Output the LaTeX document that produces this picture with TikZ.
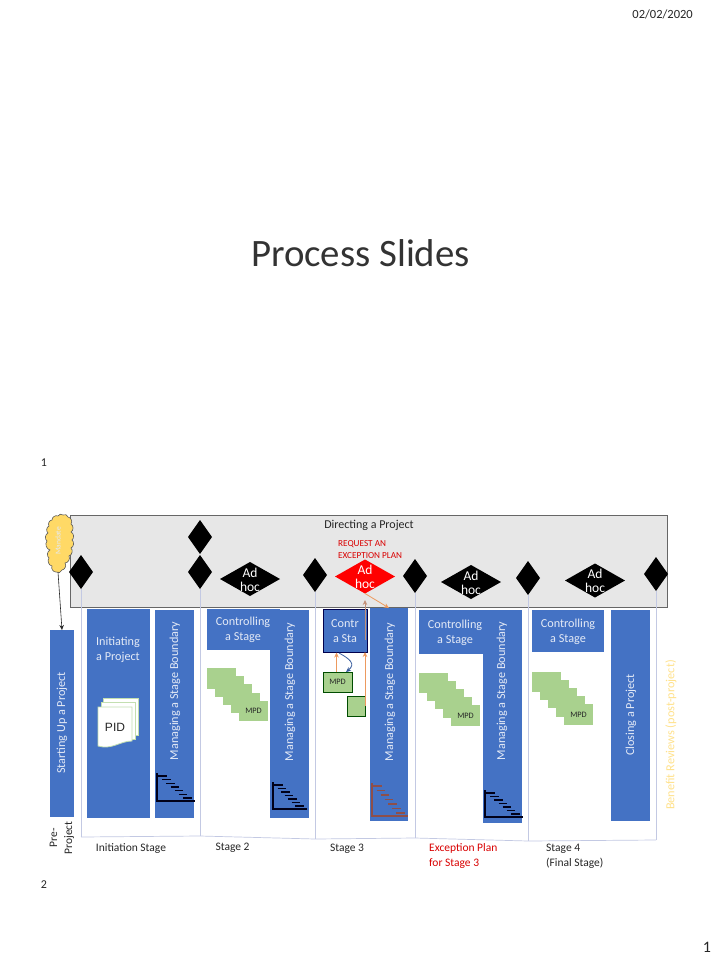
\documentclass[tikz,border=0pt]{standalone}
\usepackage{fontspec}
\setmainfont{Carlito}
\newfontfamily\pidfont{Liberation Sans}
\usetikzlibrary{shapes.geometric,arrows.meta}
\definecolor{pblue}{HTML}{4472C4}
\definecolor{pgrey}{HTML}{E7E7E7}
\definecolor{pgreen}{HTML}{A9D18E}
\definecolor{pline}{HTML}{C3C9E3}
\definecolor{porange}{HTML}{ED9A5E}
\definecolor{pbrown}{HTML}{8E4F4A}
\definecolor{pcloud}{HTML}{FFD966}
\definecolor{ptext}{HTML}{E4EAF6}
\tikzset{
  pxbox/.style={rectangle,inner sep=0pt,outer sep=0pt},
  bluebox/.style={pxbox,fill=pblue},
  greybox/.style={pxbox,fill=pgrey,draw=black!60,line width=.7pt},
  stepbox/.style={pxbox,fill=pgreen,minimum width=29pt,minimum height=20.5pt},
  gem/.style={diamond,fill=black,inner sep=0pt,outer sep=0pt,minimum width=24pt,minimum height=34pt},
  widegem/.style={gem,minimum width=60pt},
  btxt/.style={text=ptext,font=\fontsize{12.2}{15}\selectfont,align=center,inner sep=0pt},
  rtxt/.style={btxt,rotate=90},
  gemtxt/.style={text=white,font=\fontsize{13.5}{14}\selectfont,align=center,inner sep=0pt},
  ktxt/.style={text=black!85,font=\fontsize{11.5}{15}\selectfont,align=left,inner sep=0pt},
  redtxt/.style={ktxt,text=red!85!black},
  mpdtxt/.style={text=black!85,font=\fontsize{8.3}{9}\selectfont,inner sep=0pt},
  vline/.style={draw=pline,line width=.7pt},
  orangearrow/.style={draw=porange,line width=.8pt,-{Stealth[length=5pt,width=4.5pt]}},
  sheet/.style={draw=pgreen!70,fill=white,line width=.8pt},
  tri/.style={draw=#1,line width=1.1pt},
  hatchmark/.style={draw=#1,line width=1.4pt},
}
% box by corners
\newcommand{\bx}[6]{%
  \pgfmathsetmacro{\cxv}{(#3+#5)/2}\pgfmathsetmacro{\cyv}{(#4+#6)/2}%
  \pgfmathsetmacro{\wv}{#5-#3}\pgfmathsetmacro{\hv}{#6-#4}%
  \node[#1,minimum width=\wv pt,minimum height=\hv pt] (#2) at (\cxv,\cyv) {};}
% staircase: name, x, y of first step
\newcommand{\stairs}[3]{%
  \foreach \i in {0,...,4}{\node[stepbox,anchor=north west] (#1\i) at ({#2+8*\i},{#3+8.2*\i}) {};}%
  \node[mpdtxt] at (#14.center) {MPD};}
% triangle: corner x, y, width, height, colour
\newcommand{\hatchtri}[5]{%
  \draw[tri=#5] (#1,{#2-#4}) -- (#1,#2) -- ({#1+#3},#2);
  \foreach \k in {0,...,6}{
    \draw[hatchmark=#5] ({#1+1+\k*(#3-13)/6},{#2-#4+3+\k*(#4-6)/6}) -- ++(8.5,0);}
}
\begin{document}
\begin{tikzpicture}[x=1pt,y=-1pt]
\useasboundingbox[fill=white] (0,0) rectangle (720,960);
% page furniture
\node[text=black!85,font=\fontsize{12.5}{15}\selectfont,anchor=east,inner sep=0pt] (date) at (693,14) {02/02/2020};
\node[text=black!80,font=\fontsize{38.8}{42}\selectfont,inner sep=0pt] (title) at (360.5,253) {Process Slides};
\node[ktxt,font=\fontsize{12}{14}\selectfont] (n1) at (44,463) {1};
\node[ktxt,font=\fontsize{12}{14}\selectfont] (n2) at (44,885) {2};
\node[ktxt,font=\fontsize{16}{18}\selectfont] (n3) at (707,947) {1};
% Directing a Project
\bx{greybox}{dir}{70}{515}{667}{607}
\node[ktxt,font=\fontsize{12}{15}\selectfont] (dirt) at (369,525) {Directing a Project};
\node[redtxt,font=\fontsize{9.2}{11.5}\selectfont,anchor=north west] (req) at (338,540.5) {REQUEST AN\\EXCEPTION PLAN};
% stage frame
\coordinate (f1) at (81,837); \coordinate (f2) at (200,836); \coordinate (f3) at (315,839);
\coordinate (f4) at (415,838); \coordinate (f5) at (528,841); \coordinate (f6) at (656,840);
% gates
\node[gem] (g1) at (81,572) {};
\node[gem] (g2a) at (200,537) {};
\node[gem] (g2) at (200,572) {};
\node[gem] (g3) at (315,575) {};
\node[gem] (g4) at (415,576) {};
\node[gem] (g5) at (528,578) {};
\node[gem] (g6) at (656,574) {};
\node[widegem] (a1) at (250,579) {};
\node[widegem,fill=red] (a2) at (365,576.5) {};
\node[widegem] (a3) at (471,582) {};
\node[widegem] (a4) at (595,580.5) {};
\node[gemtxt] at (250,580) {Ad\\hoc};
\node[gemtxt] at (365,577) {Ad\\hoc};
\node[gemtxt] at (471,583) {Ad\\hoc};
\node[gemtxt] at (595,581) {Ad\\hoc};
\draw[vline] (g1.south) -- (f1);
\draw[vline] (g2.south) -- (f2);
\draw[vline] (g3.south) -- (f3);
\draw[vline] (g4.south) -- (f4);
\draw[vline] (g5.south) -- (f5);
\draw[vline] (g6.south) -- (f6);
\draw[vline] (f1) -- (f2) -- (f3) -- (f4) -- (f5) -- (f6);
% blue boxes
\bx{bluebox}{su}{50}{630}{74}{817}
\bx{bluebox}{ini}{87}{609}{150}{818}
\bx{bluebox}{cs1}{207}{609}{280}{650}
\bx{bluebox}{cs3}{419}{610}{492}{654}
\bx{bluebox}{cs4}{532}{610}{604}{652}
\bx{bluebox,draw=black!70!blue,line width=.7pt}{cs2}{323}{609}{367}{652}
\bx{bluebox}{msb1}{155}{610}{194}{818}
\bx{bluebox}{msb2}{270}{610}{309}{818}
\bx{bluebox}{msb3}{370}{608}{408}{821}
\bx{bluebox}{msb4}{483}{610}{522}{823}
\bx{bluebox}{cl}{611}{610}{650}{821}
\node[rtxt] at (62,723) {Starting Up a Project};
\node[btxt] at (118,649.5) {Initiating\\a Project};
\node[rtxt] at (175,691) {Managing a Stage Boundary};
\node[rtxt] at (290,692) {Managing a Stage Boundary};
\node[rtxt] at (390,692) {Managing a Stage Boundary};
\node[rtxt] at (502,691) {Managing a Stage Boundary};
\node[rtxt] at (631,715) {Closing a Project};
\node[btxt] at (243,630) {Controlling\\a Stage};
\node[btxt] at (345,631) {Contr\\a Sta};
\node[btxt] at (455,633) {Controlling\\a Stage};
\node[btxt] at (568,632) {Controlling\\a Stage};
% mandate cloud
\path[fill=pcloud,draw=black!65,line width=.6pt]
  (52,520) to[bend left=60] (58,516) to[bend left=60] (63,515) to[bend left=60] (68,517)
  to[bend left=60] (71,524) to[bend left=60] (71,532) to[bend left=60] (72,540)
  to[bend left=60] (71,548) to[bend left=60] (69,556) to[bend left=60] (65,563)
  to[bend left=60] (62,570) to[bend left=60] (56,572) to[bend left=60] (52,566)
  to[bend left=60] (49,558) to[bend left=60] (50,550) to[bend left=60] (47,541)
  to[bend left=60] (48,533) to[bend left=60] (49,526) to[bend left=60] (52,520) -- cycle;
\coordinate (cloudb) at (58,572);
\node[rotate=90,text=ptext,font=\fontsize{7.5}{9}\selectfont,inner sep=0pt] (mand) at (58,541) {Mandate};
\draw[draw=black!85,line width=.6pt,-{Stealth[length=5pt,width=4.5pt]}] (cloudb) -- (su.north);
% PID
\path[sheet] (103,698) rectangle (138,735);
\path[sheet] (101,702) rectangle (135,739);
\path[sheet] (98,707) -- (132,707) -- (132,741) .. controls (120,741) and (112,750) .. (98,746) -- cycle;
\node[text=black!85,font=\fontsize{12}{15}\pidfont,inner sep=0pt] (pid) at (115,727) {PID};
% staircases
\stairs{sa}{207}{668}
\stairs{sb}{419}{672.5}
\stairs{sc}{532}{671.5}
% exception stage MPDs and connectors
\node[stepbox,draw=black!50!green!60!black,line width=.7pt,minimum width=29pt,minimum height=20pt,anchor=north west] (m1) at (323,672) {};
\node[mpdtxt] at (m1) {MPD};
\node[stepbox,draw=black!50!green!60!black,line width=.7pt,minimum width=18pt,minimum height=20pt,anchor=north west] (m2) at (347,696) {};
\draw[orangearrow] (m1.north) ++(-1,0) -- ++(0,-19.5);
\draw[orangearrow] (m2.east) -- (m2.east|-cs2.south);
\draw[orangearrow,draw=porange!75!pblue] (m2.east|-cs2.south) ++(0,-12) -- ++(0,-40);
\draw[orangearrow] (a2.south) -- (msb3.north);
\draw[draw=pblue!80!black,line width=.8pt,-{Stealth[length=5pt,width=4.5pt]}] (339,653) .. controls (350,659) and (356,664) .. (346,672);
% triangles
\hatchtri{157}{801}{38}{28}{black!90!blue}
\hatchtri{273}{809}{34}{27}{black!90!blue}
\hatchtri{372}{816}{36}{33}{pbrown}
\hatchtri{485}{817}{38}{27}{black!90!blue}
% labels
\node[ktxt,rotate=90,align=center,font=\fontsize{11.5}{15}\selectfont] (pre) at (62,838) {Pre-\\Project};
\node[ktxt] (st1) at (131,849) {Initiation Stage};
\node[ktxt] (st2) at (232.5,848) {Stage 2};
\node[ktxt] (st3) at (347,849) {Stage 3};
\node[redtxt,anchor=north west] (st3e) at (429,843) {Exception Plan\\for Stage 3};
\node[ktxt,anchor=north west] (st4) at (546,844) {Stage 4\\(Final Stage)};
\node[rotate=90,text=pcloud!75,font=\fontsize{12.3}{14}\selectfont,inner sep=0pt] (ben) at (671,735) {Benefit Reviews (post-project)};
\end{tikzpicture}
\end{document}
